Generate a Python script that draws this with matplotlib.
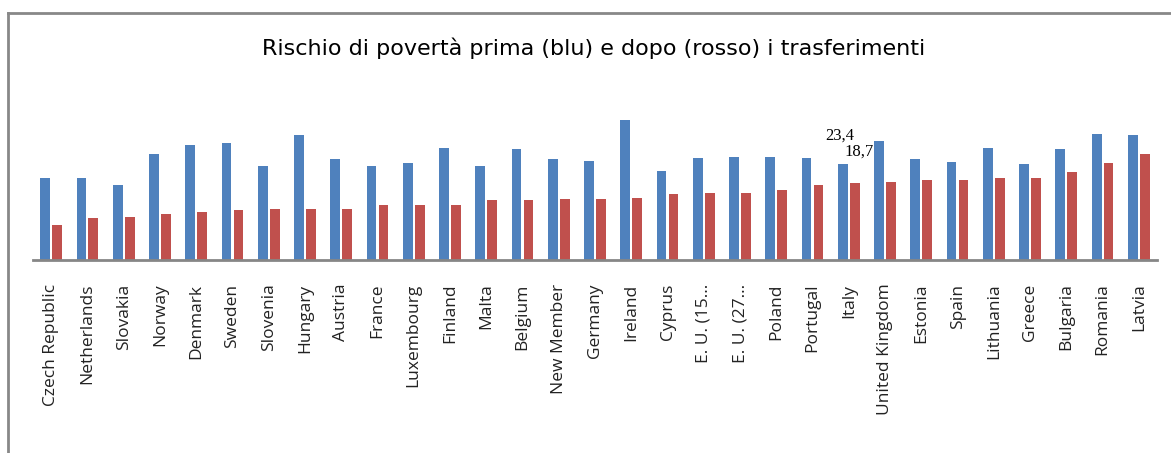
import numpy as np
import matplotlib
matplotlib.use("Agg")
from matplotlib import pyplot as plt
from matplotlib.lines import Line2D

countries = ["Czech Republic", "Netherlands", "Slovakia", "Norway", "Denmark",
             "Sweden", "Slovenia", "Hungary", "Austria", "France", "Luxembourg",
             "Finland", "Malta", "Belgium", "New Member", "Germany", "Ireland",
             "Cyprus", "E. U. (15...", "E. U. (27...", "Poland", "Portugal",
             "Italy", "United Kingdom", "Estonia", "Spain", "Lithuania", "Greece",
             "Bulgaria", "Romania", "Latvia"]

# rischio di povertà prima dei trasferimenti (blu)
before = [19.9, 19.9, 18.2, 25.7, 27.9, 28.4, 22.8, 30.3, 24.5, 22.8, 23.5,
          27.2, 22.8, 26.9, 24.5, 24.0, 34.0, 21.6, 24.8, 25.0, 25.0, 24.8,
          23.4, 28.9, 24.5, 23.8, 27.2, 23.3, 26.9, 30.6, 30.3]
# rischio di povertà dopo i trasferimenti (rosso)
after = [8.5, 10.2, 10.4, 11.2, 11.7, 12.1, 12.4, 12.4, 12.4, 13.3, 13.3,
         13.3, 14.6, 14.6, 14.8, 14.8, 15.0, 16.0, 16.3, 16.3, 17.0, 18.2,
         18.7, 18.9, 19.4, 19.4, 19.9, 19.9, 21.4, 23.5, 25.7]

W, H = 1171, 453
fig = plt.figure(figsize=(W / 100, H / 100), dpi=100)
ymax = 35.0
ppu = 4.12  # pixel per unità
ax_left, ax_right, ax_base = 33, 1157, 260
ax = fig.add_axes([ax_left / W, (H - ax_base) / H, (ax_right - ax_left) / W,
                   ymax * ppu / H])

x = np.arange(len(countries))
w = 0.27
ax.bar(x - 0.165, before, width=w, color="#4F81BD")
ax.bar(x + 0.165, after, width=w, color="#C0504D")

ax.set_xlim(-0.5, len(countries) - 0.5)
ax.set_ylim(0, ymax)
for s in ["top", "right", "left"]:
    ax.spines[s].set_visible(False)
ax.spines["bottom"].set_color("#868686")
ax.spines["bottom"].set_linewidth(2)
ax.set_yticks([])
ax.set_xticks(x)
ax.set_xticklabels(countries, rotation=90, fontsize=12.5, family="Open Sans",
                   color="#222222")
ax.tick_params(axis="x", length=0, pad=17)

# etichette per l'Italia
i = countries.index("Italy")
ax.text(i - 0.24, 30.1, f"{before[i]:.1f}".replace(".", ","),
        ha="center", va="center", fontsize=12, family="Liberation Serif")
ax.text(i + 0.28, 26.2, f"{after[i]:.1f}".replace(".", ","),
        ha="center", va="center", fontsize=12, family="Liberation Serif")

fig.text(594 / W, 1 - 48 / H, "Rischio di povertà prima (blu) e dopo (rosso) i trasferimenti",
         ha="center", va="center", fontsize=16, family="DejaVu Sans")

# cornice
fig.add_artist(Line2D([8 / W, 8 / W], [0, 1 - 13 / H], color="#888888", lw=2))
fig.add_artist(Line2D([8 / W, 1], [1 - 13 / H, 1 - 13 / H], color="#888888", lw=2))

fig.savefig("out.png", dpi=100)
